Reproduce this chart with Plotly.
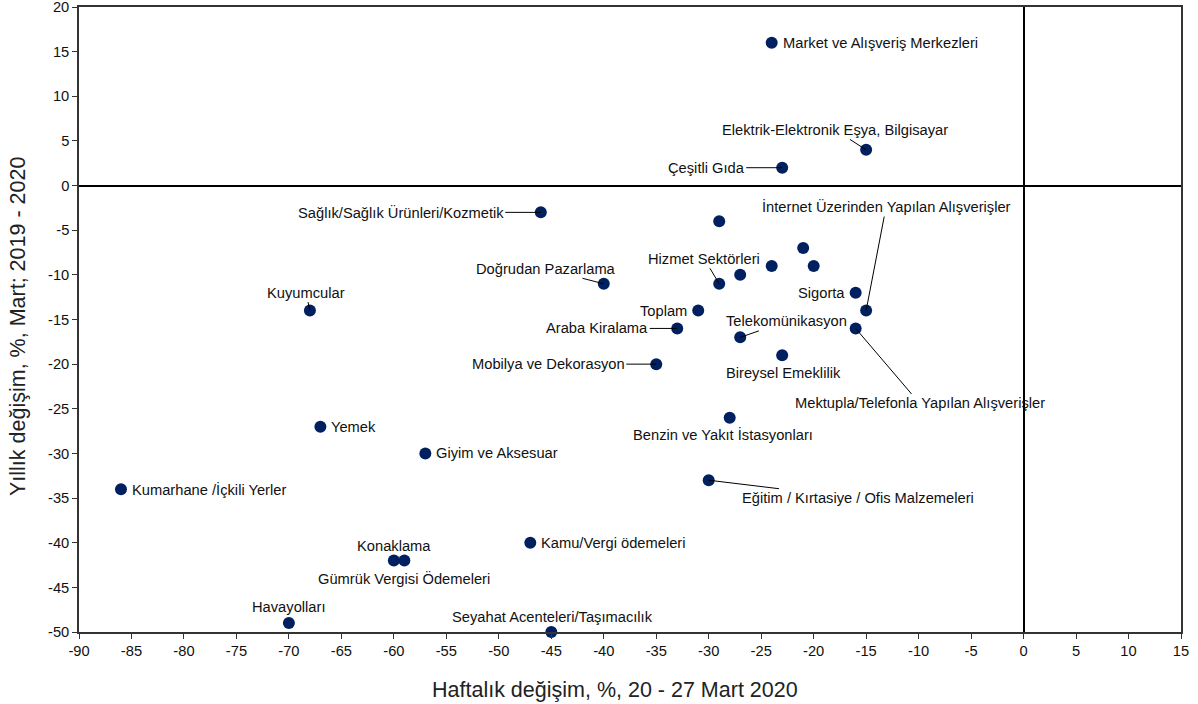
import plotly.graph_objects as go

# Data
names = [
    "Market ve Alışveriş Merkezleri", "Elektrik-Elektronik Eşya, Bilgisayar", "Çeşitli Gıda",
    "Sağlık/Sağlık Ürünleri/Kozmetik", "", "İnternet Üzerinden Yapılan Alışverişler",
    "", "", "", "", "Hizmet Sektörleri", "Doğrudan Pazarlama", "Kuyumcular", "Toplam",
    "Sigorta", "Araba Kiralama", "Telekomünikasyon", "Mektupla/Telefonla Yapılan Alışverişler",
    "Mobilya ve Dekorasyon", "Bireysel Emeklilik", "Benzin ve Yakıt İstasyonları", "Yemek",
    "Giyim ve Aksesuar", "Kumarhane /İçkili Yerler", "Eğitim / Kırtasiye / Ofis Malzemeleri",
    "Kamu/Vergi ödemeleri", "Konaklama", "Gümrük Vergisi Ödemeleri", "Havayolları",
    "Seyahat Acenteleri/Taşımacılık",
]
weekly = [-24, -15, -23, -46, -29, -15, -21, -20, -24, -27, -29, -40, -68, -31,
          -16, -33, -27, -16, -35, -23, -28, -67, -57, -86, -30, -47, -60, -59, -70, -45]
yearly = [16, 4, 2, -3, -4, -14, -7, -9, -9, -10, -11, -11, -14, -14,
          -12, -16, -17, -16, -20, -19, -26, -27, -30, -34, -33, -40, -42, -42, -49, -50]

x_ticks = [-90, -85, -80, -75, -70, -65, -60, -55, -50, -45, -40, -35, -30, -25, -20,
           -15, -10, -5, 0, 5, 10, 15]
x_ticklabels = [str(v) for v in x_ticks]
y_ticks = [-50, -45, -40, -35, -30, -25, -20, -15, -10, -5, 0, 5, 10, 15, 20]
y_ticklabels = [str(v) for v in y_ticks]

x_title = "Haftalık değişim, %, 20 - 27 Mart 2020"
y_title = "Yıllık değişim, %, Mart; 2019 - 2020"

# Label placement (pixel offsets of label centre from point; leader flag)
label_style = {
    "Market ve Alışveriş Merkezleri": ("left", 9, 0, False),
    "Elektrik-Elektronik Eşya, Bilgisayar": ("c", -31, -20, True),
    "Çeşitli Gıda": ("c", -76, 0, True),
    "Sağlık/Sağlık Ürünleri/Kozmetik": ("c", -140, 0, True),
    "İnternet Üzerinden Yapılan Alışverişler": ("c", 20, -104, True),
    "Hizmet Sektörleri": ("c", -15, -25, True),
    "Doğrudan Pazarlama": ("c", -58, -15, True),
    "Kuyumcular": ("c", -4, -18, True),
    "Toplam": ("right", -9, 0, False),
    "Sigorta": ("right", -9, 0, False),
    "Araba Kiralama": ("c", -80, 0, True),
    "Telekomünikasyon": ("c", 46, -16, True),
    "Mektupla/Telefonla Yapılan Alışverişler": ("c", 64, 75, True),
    "Mobilya ve Dekorasyon": ("c", -108, 0, True),
    "Bireysel Emeklilik": ("c", 1, 18, False),
    "Benzin ve Yakıt İstasyonları": ("c", -7, 17, False),
    "Yemek": ("left", 9, 0, False),
    "Giyim ve Aksesuar": ("left", 9, 0, False),
    "Kumarhane /İçkili Yerler": ("left", 9, 0, False),
    "Eğitim / Kırtasiye / Ofis Malzemeleri": ("c", 149, 18, True),
    "Kamu/Vergi ödemeleri": ("left", 9, 0, False),
    "Konaklama": ("c", 0, -15, False),
    "Gümrük Vergisi Ödemeleri": ("c", 0, 18, False),
    "Havayolları": ("c", 0, -16, False),
    "Seyahat Acenteleri/Taşımacılık": ("c", 1, -15, False),
}

FONT = "Liberation Sans, Arial, sans-serif"
LBL = 14.7
TTL = 21.5
fig = go.Figure()
fig.add_trace(go.Scatter(
    x=weekly, y=yearly, mode="markers",
    marker=dict(color="#002060", size=12),
    hoverinfo="text", hovertext=names, showlegend=False, cliponaxis=False,
))

annotations = []
for n, xv, yv in zip(names, weekly, yearly):
    if not n:
        continue
    anchor, dx, dy, leader = label_style[n]
    if leader:
        annotations.append(dict(
            x=xv, y=yv, text=n, showarrow=True, ax=dx, ay=dy,
            arrowhead=0, arrowwidth=1, arrowcolor="#000", standoff=0,
            font=dict(size=LBL, color="#111", family=FONT), borderpad=1,
        ))
    else:
        annotations.append(dict(
            x=xv, y=yv, text=n, showarrow=False,
            xanchor="center" if anchor == "c" else anchor, yanchor="middle",
            xshift=dx, yshift=-dy,
            font=dict(size=LBL, color="#111", family=FONT),
        ))

# Axis titles
annotations.append(dict(
    text=x_title, xref="paper", yref="paper", x=0.486, y=0, showarrow=False,
    xanchor="center", yanchor="middle", yshift=-58,
    font=dict(size=TTL, family=FONT, color="#222"),
))
annotations.append(dict(
    text=y_title, xref="paper", yref="paper", x=0, y=0.488, showarrow=False,
    xanchor="center", yanchor="middle", xshift=-61, textangle=-90,
    font=dict(size=TTL, family=FONT, color="#222"),
))

fig.update_layout(
    width=1198, height=704,
    margin=dict(l=79, r=17, t=7, b=72),
    paper_bgcolor="white", plot_bgcolor="white",
    font=dict(family=FONT, size=LBL, color="#111"),
    annotations=annotations,
    xaxis=dict(
        range=[-90, 15], tickvals=x_ticks, ticktext=x_ticklabels, showgrid=False,
        automargin=False, ticklabeloverflow="allow",
        zeroline=True, zerolinecolor="#000", zerolinewidth=1.5,
        showline=True, mirror=True, linecolor="#333", linewidth=1.5,
        ticks="outside", ticklen=5, tickcolor="#333",
        tickfont=dict(size=LBL, family=FONT, color="#111"),
    ),
    yaxis=dict(
        range=[-50, 20], tickvals=y_ticks, ticktext=y_ticklabels, showgrid=False,
        automargin=False, ticklabeloverflow="allow",
        zeroline=True, zerolinecolor="#000", zerolinewidth=1.5,
        showline=True, mirror=True, linecolor="#333", linewidth=1.5,
        ticks="outside", ticklen=5, tickcolor="#333",
        tickfont=dict(size=LBL, family=FONT, color="#111"),
    ),
)

fig.write_html("out.html", config={"displayModeBar": False},
               post_script="document.body.style.margin='0';")
